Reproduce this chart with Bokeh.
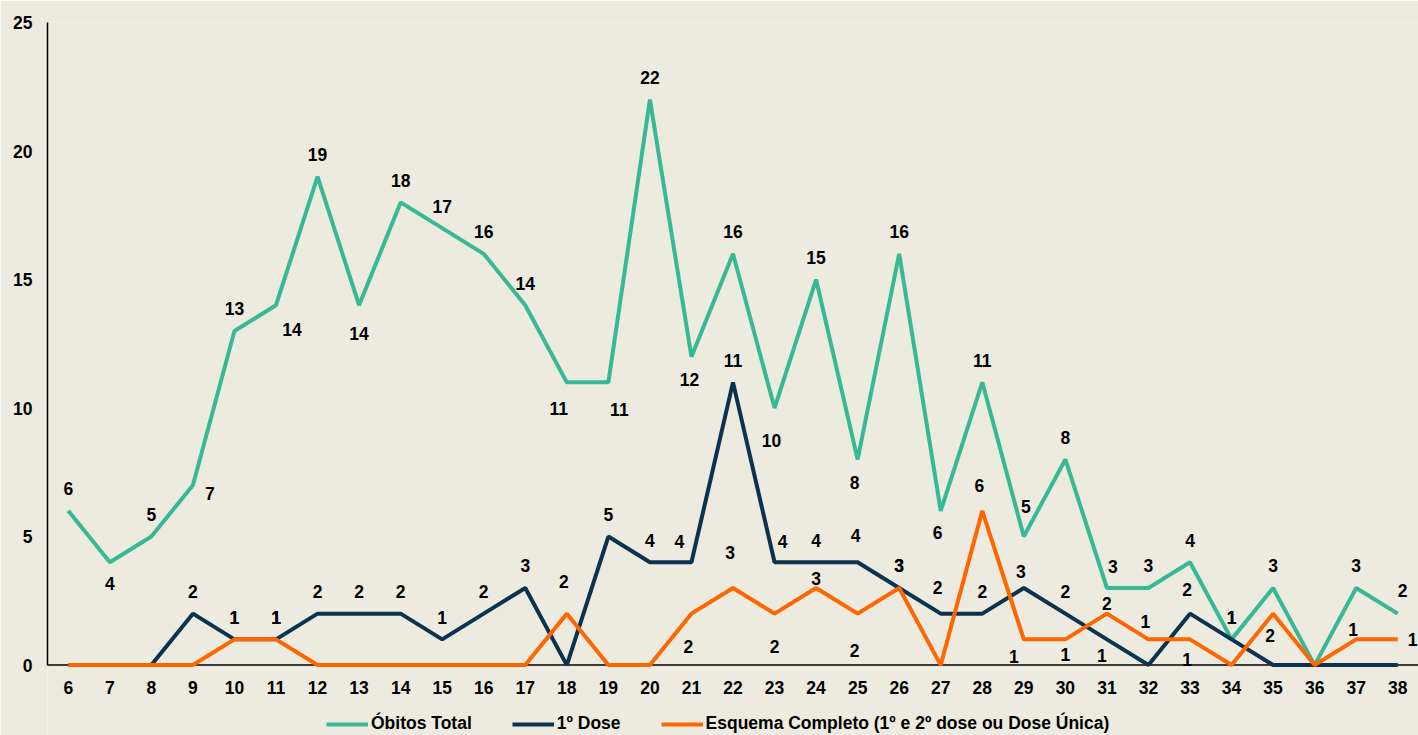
from bokeh.plotting import figure
from bokeh.models import ColumnDataSource, FactorRange, Range1d, Legend, LegendItem, FixedTicker, Span
from bokeh.core.properties import value
from bokeh.embed import file_html
from bokeh.resources import INLINE

# ---------------- data ----------------
semanas = ["6", "7", "8", "9", "10", "11", "12", "13", "14", "15", "16", "17", "18", "19", "20", "21",
           "22", "23", "24", "25", "26", "27", "28", "29", "30", "31", "32", "33", "34", "35", "36", "37", "38"]
obitos_total = [6, 4, 5, 7, 13, 14, 19, 14, 18, 17, 16, 14, 11, 11, 22, 12, 16, 10, 15, 8, 16, 6, 11, 5, 8,
                3, 3, 4, 1, 3, 0, 3, 2]
primeira_dose = [0, 0, 0, 2, 1, 1, 2, 2, 2, 1, 2, 3, 0, 5, 4, 4, 11, 4, 4, 4, 3, 2, 2, 3, 2, 1, 0, 2, 1,
                 0, 0, 0, 0]
esquema_completo = [0, 0, 0, 0, 1, 1, 0, 0, 0, 0, 0, 0, 2, 0, 0, 2, 3, 2, 3, 2, 3, 0, 6, 1, 1, 2, 1, 1, 0,
                    2, 0, 1, 1]
y_ticks = [0, 5, 10, 15, 20, 25]
y_tick_labels = ["0", "5", "10", "15", "20", "25"]
legend_labels = ["Óbitos Total", "1º Dose", "Esquema Completo (1º e 2º dose ou Dose Única)"]

# ---------------- styling ----------------
BG = "#EDEBE0"
TEAL = "#38B995"
NAVY = "#0B3350"
ORANGE = "#FF6600"
FONT = "Liberation Sans"
FS = "17.5px"

# data-label placement: pixel offsets (dx, dy; +dy = down)
DEFAULT = (0, -22)
obitos_off = {"7": (0, 21), "9": (17, 8), "11": (16, 24), "13": (0, 28), "18": (-8, 26), "19": (11, 27),
              "21": (-2, 23), "23": (-3, 32), "25": (-3, 23), "27": (-3, 22), "29": (2, -30),
              "31": (6, -21), "38": (5, -23)}
dose_off = {"21": (-12, -21), "23": (8, -21), "25": (-2, -27), "27": (-3, -26), "29": (-3, -16),
            "31": (-5, 16), "33": (-3, -24)}
esq_off = {"18": (-3, -32), "21": (-3, 33), "22": (-3, -35), "23": (0, 33), "24": (0, -9), "25": (-3, 37),
           "28": (-3, -25), "29": (-10, 17), "30": (0, 15), "31": (0, -10), "32": (-3, -18), "33": (-3, 20),
           "35": (-3, 22), "37": (-3, -10), "38": (15, 0)}

# frame reaches the bottom of the figure; the value axis (0..25) sits in its upper part
p = figure(width=1418, height=735,
           x_range=FactorRange(factors=semanas), y_range=Range1d(-2.74, 25),
           output_backend="svg", toolbar_location=None,
           min_border_left=47, min_border_right=0, min_border_top=22, min_border_bottom=0)
p.background_fill_color = BG
p.border_fill_color = BG
p.outline_line_color = None
p.xgrid.grid_line_color = None
p.ygrid.grid_line_color = None

p.add_layout(Span(location=0, dimension="width", line_color="black", line_width=1.5, level="underlay"))

r1 = p.line(semanas, obitos_total, line_color=TEAL, line_width=4)
r2 = p.line(semanas, primeira_dose, line_color=NAVY, line_width=4)
r3 = p.line(semanas, esquema_completo, line_color=ORANGE, line_width=4)


def labels(vals, offs):
    xs, ys, ts, dxs, dys = [], [], [], [], []
    for s, v in zip(semanas, vals):
        if v == 0:
            continue
        dx, dy = offs.get(s, DEFAULT)
        xs.append(s); ys.append(v); ts.append(str(v)); dxs.append(dx); dys.append(dy)
    return ColumnDataSource(dict(x=xs, y=ys, text=ts, dx=dxs, dy=dys))


for vals, offs in [(obitos_total, obitos_off), (primeira_dose, dose_off), (esquema_completo, esq_off)]:
    p.text(x="x", y="y", text="text", source=labels(vals, offs), x_offset="dx", y_offset="dy",
           text_align="center", text_baseline="middle", text_font=value(FONT),
           text_font_style="bold", text_font_size=FS, text_color="black")

# category labels under the zero line
p.text(x=semanas, y=[0] * len(semanas), text=semanas, y_offset=22,
       text_align="center", text_baseline="middle", text_font=value(FONT),
       text_font_style="bold", text_font_size=FS, text_color="black")
p.xaxis.visible = False

# value axis
p.yaxis.ticker = FixedTicker(ticks=y_ticks)
p.yaxis.major_label_overrides = {t: l for t, l in zip(y_ticks, y_tick_labels)}
p.yaxis.bounds = (0, 25)
p.yaxis.major_tick_line_color = None
p.yaxis.minor_tick_line_color = None
p.yaxis.major_tick_out = 0
p.yaxis.major_tick_in = 0
p.yaxis.major_label_text_font = FONT
p.yaxis.major_label_text_font_style = "bold"
p.yaxis.major_label_text_font_size = FS
p.yaxis.major_label_text_color = "black"
p.yaxis.axis_line_color = "black"
p.yaxis.axis_line_width = 1.5
p.yaxis.major_label_standoff = 15

legend = Legend(items=[LegendItem(label=legend_labels[0], renderers=[r1]),
                       LegendItem(label=legend_labels[1], renderers=[r2]),
                       LegendItem(label=legend_labels[2], renderers=[r3])],
                location=(279, 1), orientation="horizontal",
                glyph_width=42, glyph_height=20, label_height=20, label_standoff=3, spacing=40,
                padding=0, margin=0, border_line_color=None, background_fill_alpha=0,
                label_text_font=FONT, label_text_font_style="bold", label_text_font_size=FS,
                label_text_color="black")
p.add_layout(legend)

open("out.html", "w").write(file_html(p, INLINE))
